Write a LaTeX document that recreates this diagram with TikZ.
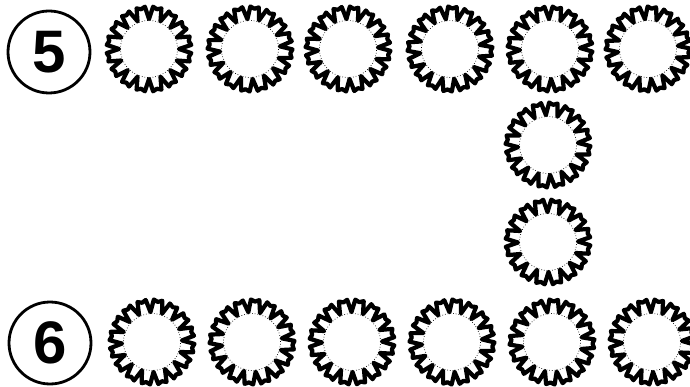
\documentclass[tikz,border=0pt]{standalone}
\usepackage{fontspec}
\setmainfont{Liberation Sans}
\begin{document}
\begin{tikzpicture}[x=1pt,y=-1pt,
  numcircle/.style={draw, circle, line width=2.8pt, minimum size=82pt, inner sep=0pt,
    font=\fontsize{60}{60}\selectfont\bfseries},
  gear/.pic={
    \draw[line width=4.2pt, line join=round]
      (0:30pt) \foreach \i in {0,...,15} {
        -- ({\i*22.5+5.5}:42.5pt) -- ({\i*22.5+11.25}:40.5pt) -- ({\i*22.5+17}:42.5pt) -- ({\i*22.5+22.5}:30pt)
      } -- cycle;
    \draw[dotted, line width=0.7pt] (0,0) circle (28.5pt);
  }]
\useasboundingbox (0,0) rectangle (690,387);
\clip (0,0) rectangle (690,387);
\node[numcircle] (n5) at (49,52) {5};
\node[numcircle] (n6) at (50,343) {6};
% top row
\foreach \x/\r in {149/0, 250/5, 348/3, 450/8, 550/2, 648/6}
  \pic[rotate=\r] at (\x,49) {gear};
% vertical column
\pic[rotate=4] at (548,145) {gear};
\pic[rotate=1] at (548,242) {gear};
% bottom row
\foreach \x/\r in {152/3, 252/7, 352/1, 452/5, 552/9, 652/2}
  \pic[rotate=\r] at (\x,342) {gear};
\end{tikzpicture}
\end{document}
